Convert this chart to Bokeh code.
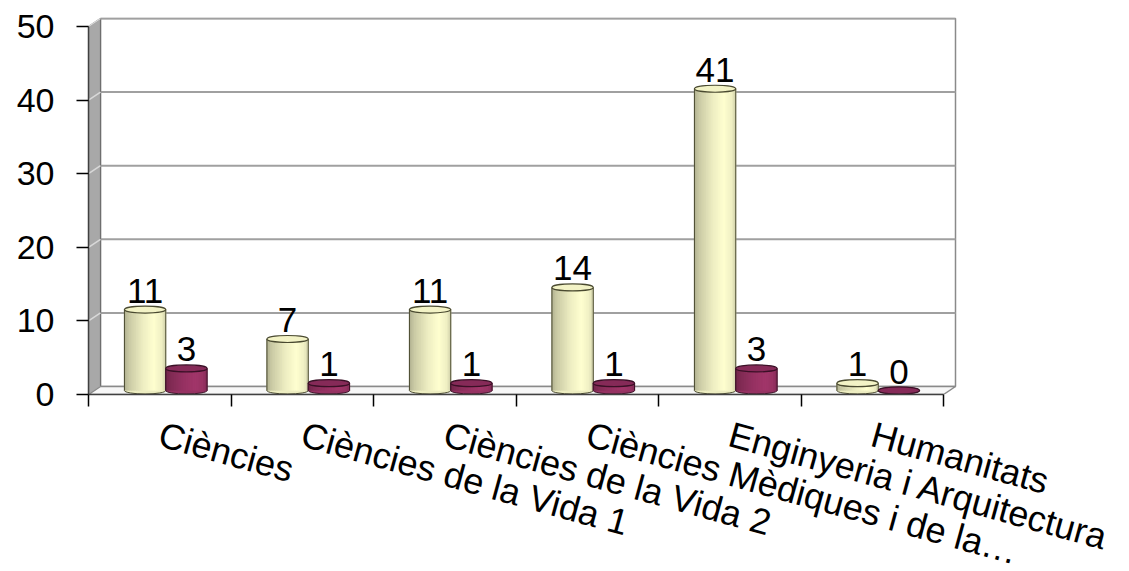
import numpy as np
from bokeh.plotting import figure
from bokeh.models import Range1d, FixedTicker, ColumnDataSource
from bokeh.core.properties import value
from bokeh.embed import file_html
from bokeh.resources import INLINE

# ---------------- data ----------------
categories = ["Ciències", "Ciències de la Vida 1", "Ciències de la Vida 2",
              "Ciències Mèdiques i de la…", "Enginyeria i Arquitectura", "Humanitats"]
series_a = [11, 7, 11, 14, 41, 1]
series_b = [3, 1, 1, 1, 3, 0]
y_ticks = [0, 10, 20, 30, 40, 50]

# ---------------- geometry / style ----------------
FONT = "Liberation Sans"
PX_X = 142.5          # pixels per category
PX_Y = 7.36           # pixels per value unit
DX = 12 / PX_X        # depth offset (x, data units)
DY = 8 / PX_Y         # depth offset (y, data units)
FRAME_W = 869
FRAME_H = 377
n = len(categories)
YMAX = y_ticks[-1]
x_end = FRAME_W / PX_X
y_end = FRAME_H / PX_Y

p = figure(frame_width=FRAME_W, frame_height=FRAME_H,
           x_range=Range1d(0, x_end), y_range=Range1d(0, y_end),
           output_backend="svg", toolbar_location=None,
           min_border_left=88, min_border_top=17, min_border_right=160, min_border_bottom=20)
p.extra_x_ranges = {"mid": Range1d(-DX / 2, x_end - DX / 2), "back": Range1d(-DX, x_end - DX)}
p.extra_y_ranges = {"mid": Range1d(-DY / 2, y_end - DY / 2), "back": Range1d(-DY, y_end - DY)}
p.outline_line_color = None
p.grid.visible = False
p.background_fill_color = "white"

# back wall + gridlines
p.quad(left=[0], right=[n], bottom=[0], top=[YMAX], x_range_name="back", y_range_name="back",
       fill_color="white", line_color="#8a8a8a", line_width=1.5)
p.segment(x0=[0] * (len(y_ticks) - 1), x1=[n] * (len(y_ticks) - 1), y0=y_ticks[1:], y1=y_ticks[1:],
          x_range_name="back", y_range_name="back", line_color="#a0a0a0", line_width=2)

# side wall
p.patch(x=[0, DX, DX, 0], y=[0, DY, YMAX + DY, YMAX], fill_color="#a8a8a8",
        line_color="#6e6e6e", line_width=1.2)
p.segment(x0=[0] * len(y_ticks), x1=[DX] * len(y_ticks), y0=y_ticks,
          y1=[t + DY for t in y_ticks], line_color="#d8d8d8", line_width=1.5)

# floor
p.patch(x=[0, n, n + DX, DX], y=[0, 0, DY, DY], fill_color="#f7f7f7",
        line_color="#8a8a8a", line_width=1.5)

# ---------------- cylinders ----------------
def shade(base, t):
    tp = [0.0, 0.12, 0.45, 0.72, 0.92, 1.0]
    bp = [0.68, 0.79, 0.93, 1.0, 0.94, 0.82]
    b = np.interp(t, tp, bp)
    r, g, bl = base
    return "#%02x%02x%02x" % (int(r * b), int(g * b), int(bl * b))

W = 0.29
NS = 24
series = [
    (series_a, -0.145, (255, 255, 208), "#f3f3c6", "#4a4a30"),
    (series_b, 0.145, (162, 54, 106), "#862a58", "#3a1026"),
]

for vals, off, base, cap, edge in series:
    cx = [i + 0.5 + off for i in range(n)]
    mid_col = shade(base, 0.45)
    # bottom ellipse
    p.ellipse(x=cx, y=[0] * n, width=W, height=7, height_units="screen",
              x_range_name="mid", y_range_name="mid",
              fill_color=mid_col, line_color=edge, line_width=1)
    # shaded body strips
    sx, stop, scol = [], [], []
    for i in range(n):
        for j in range(NS):
            t = (j + 0.5) / NS
            sx.append(cx[i] - W / 2 + t * W)
            stop.append(vals[i])
            scol.append(shade(base, t))
    src = ColumnDataSource(dict(x=sx, top=stop, color=scol))
    p.vbar(x="x", top="top", bottom=0, width=W / NS * 1.6, source=src,
           x_range_name="mid", y_range_name="mid", fill_color="color", line_color=None)
    # edges
    lx = [c - W / 2 for c in cx]
    rx = [c + W / 2 for c in cx]
    p.segment(x0=lx, x1=lx, y0=[0] * n, y1=vals, x_range_name="mid", y_range_name="mid",
              line_color=edge, line_width=1)
    p.segment(x0=rx, x1=rx, y0=[0] * n, y1=vals, x_range_name="mid", y_range_name="mid",
              line_color=edge, line_width=1)
    # top cap
    p.ellipse(x=cx, y=vals, width=W, height=7, height_units="screen",
              x_range_name="mid", y_range_name="mid",
              fill_color=cap, line_color=edge, line_width=1.2)
    # data labels
    p.text(x=cx, y=vals, text=[str(v) for v in vals], x_range_name="mid", y_range_name="mid",
           text_align="center", text_baseline="bottom", y_offset=-7,
           text_font=value(FONT), text_font_size="35px", text_color="#000000")

# ---------------- axes ----------------
xa = p.xaxis[0]
xa.ticker = FixedTicker(ticks=[i + 0.5 for i in range(n)], minor_ticks=list(range(n + 1)))
xa.major_label_overrides = {i + 0.5: categories[i] for i in range(n)}
xa.major_label_orientation = -0.27
xa.major_tick_out = 0
xa.major_tick_in = 0
xa.minor_tick_out = 12
xa.minor_tick_in = 0
xa.minor_tick_line_color = "#000000"
xa.minor_tick_line_width = 1.5
xa.major_label_standoff = 27
xa.bounds = (0, n)
xa.axis_line_color = "#404040"
xa.axis_line_width = 1.5
xa.major_label_text_font = FONT
xa.major_label_text_font_size = "36px"
xa.major_label_text_color = "#000000"

ya = p.yaxis[0]
ya.ticker = FixedTicker(ticks=y_ticks, minor_ticks=[])
ya.major_tick_out = 12
ya.major_tick_in = 0
ya.major_tick_line_color = "#000000"
ya.major_tick_line_width = 1.5
ya.minor_tick_out = 0
ya.minor_tick_in = 0
ya.major_label_standoff = 22
ya.bounds = (0, YMAX)
ya.axis_line_color = "#404040"
ya.axis_line_width = 1.5
ya.major_label_text_font = FONT
ya.major_label_text_font_size = "34px"
ya.major_label_text_color = "#000000"

open("out.html", "w").write(file_html(p, INLINE))
